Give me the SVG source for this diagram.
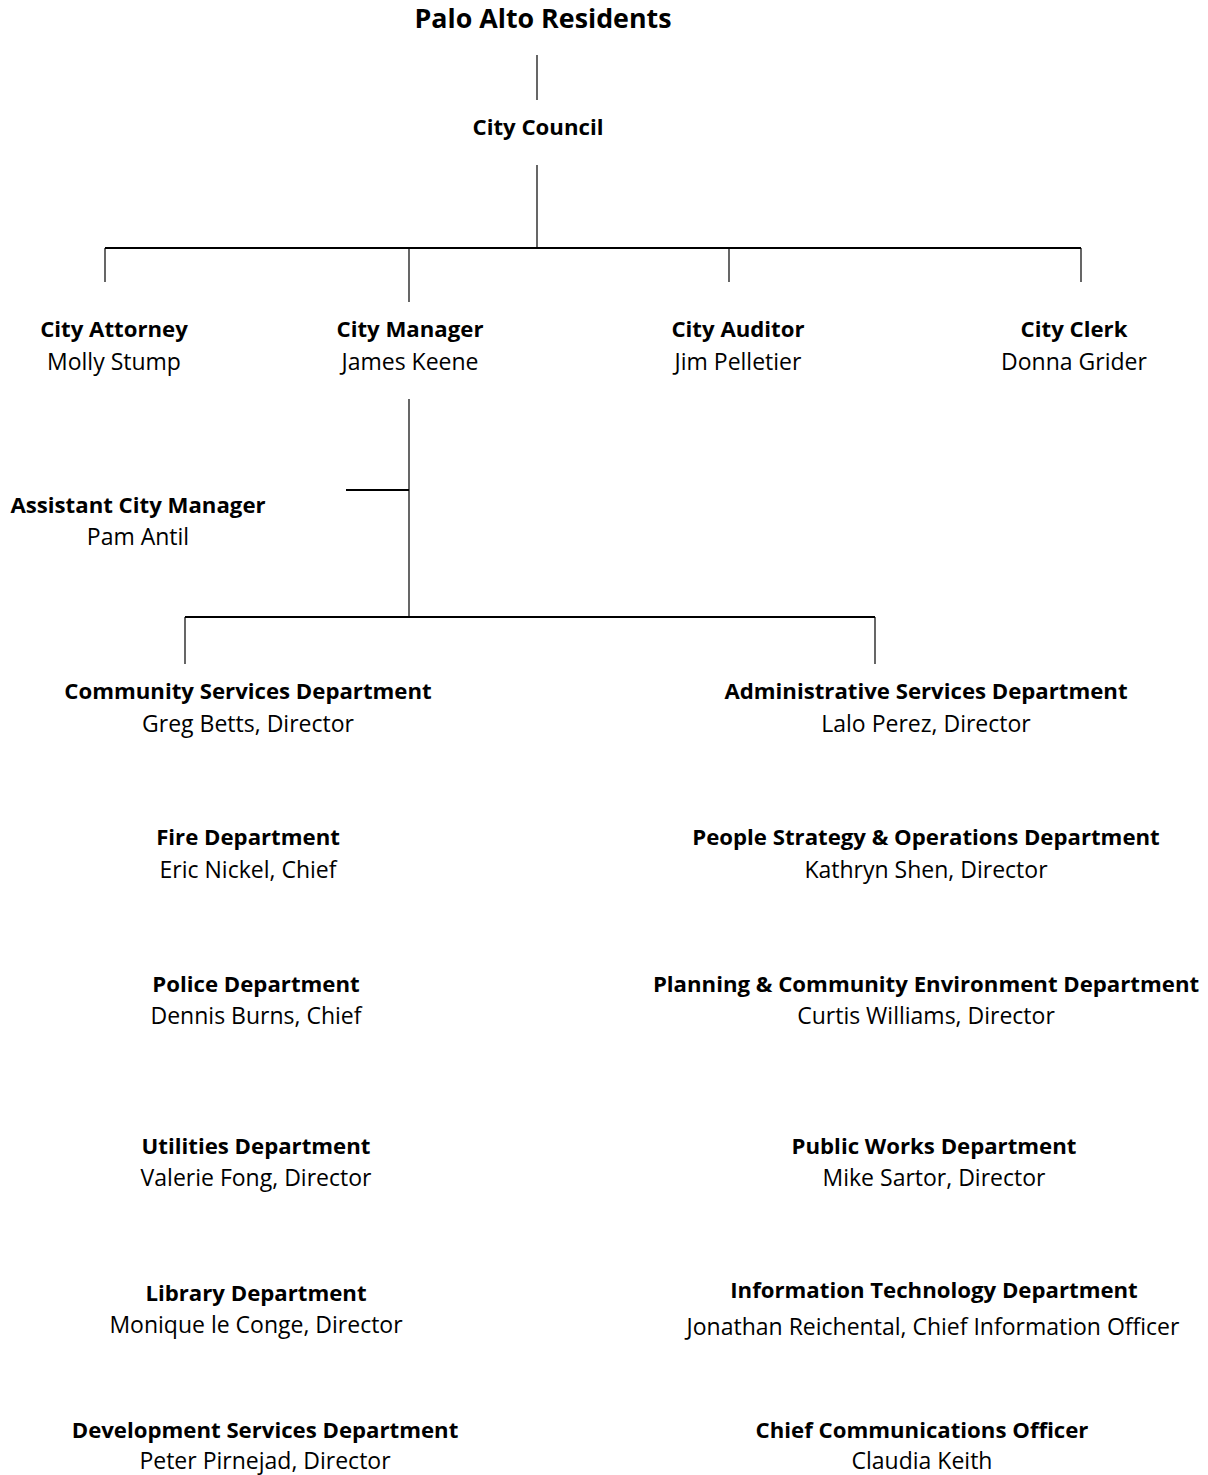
<svg xmlns="http://www.w3.org/2000/svg" width="1208" height="1475" viewBox="0 0 1208 1475">
<style>
text{font-family:"Open Sans","Noto Sans",sans-serif;font-size:23px;fill:#000;text-anchor:middle}
.b{font-weight:bold;font-size:22.2px}
.t{font-size:26.8px;font-weight:bold}
.v{stroke:#000;stroke-width:1.2;fill:none}
.h{stroke:#000;stroke-width:2;fill:none}
</style>
<rect width="1208" height="1475" fill="#fff"/>
<g id="connectors">
<line class="v" x1="537" y1="55" x2="537" y2="100"/>
<line class="v" x1="537" y1="165" x2="537" y2="248"/>
<line class="h" x1="105" y1="248" x2="1081" y2="248"/>
<line class="v" x1="105" y1="248" x2="105" y2="282"/>
<line class="v" x1="409" y1="248" x2="409" y2="302"/>
<line class="v" x1="729" y1="248" x2="729" y2="282"/>
<line class="v" x1="1081" y1="248" x2="1081" y2="282"/>
<line class="v" x1="409" y1="399" x2="409" y2="617"/>
<line class="h" x1="346" y1="490" x2="409" y2="490"/>
<line class="h" x1="185" y1="617" x2="875" y2="617"/>
<line class="v" x1="185" y1="617" x2="185" y2="664"/>
<line class="v" x1="875" y1="617" x2="875" y2="664"/>
</g>
<g id="residents"><text class="t" x="543" y="28">Palo Alto Residents</text></g>
<g id="council"><text class="b" x="538" y="135">City Council</text></g>
<g id="attorney"><text class="b" x="114" y="337">City Attorney</text><text x="114" y="370">Molly Stump</text></g>
<g id="manager"><text class="b" x="410" y="337">City Manager</text><text x="410" y="370">James Keene</text></g>
<g id="auditor"><text class="b" x="738" y="337">City Auditor</text><text x="738" y="370">Jim Pelletier</text></g>
<g id="clerk"><text class="b" x="1074" y="337">City Clerk</text><text x="1074" y="370">Donna Grider</text></g>
<g id="asst"><text class="b" x="138" y="513">Assistant City Manager</text><text x="138" y="545">Pam Antil</text></g>
<g id="community"><text class="b" x="248" y="699">Community Services Department</text><text x="248" y="732">Greg Betts, Director</text></g>
<g id="admin"><text class="b" x="926" y="699">Administrative Services Department</text><text x="926" y="732">Lalo Perez, Director</text></g>
<g id="fire"><text class="b" x="248" y="845">Fire Department</text><text x="248" y="878">Eric Nickel, Chief</text></g>
<g id="people"><text class="b" x="926" y="845">People Strategy &amp; Operations Department</text><text x="926" y="878">Kathryn Shen, Director</text></g>
<g id="police"><text class="b" x="256" y="992">Police Department</text><text x="256" y="1024">Dennis Burns, Chief</text></g>
<g id="planning"><text class="b" x="926" y="992">Planning &amp; Community Environment Department</text><text x="926" y="1024">Curtis Williams, Director</text></g>
<g id="utilities"><text class="b" x="256" y="1154">Utilities Department</text><text x="256" y="1186">Valerie Fong, Director</text></g>
<g id="publicworks"><text class="b" x="934" y="1154">Public Works Department</text><text x="934" y="1186">Mike Sartor, Director</text></g>
<g id="library"><text class="b" x="256" y="1301">Library Department</text><text x="256" y="1333">Monique le Conge, Director</text></g>
<g id="it"><text class="b" x="934" y="1298">Information Technology Department</text><text x="933" y="1335">Jonathan Reichental, Chief Information Officer</text></g>
<g id="devservices"><text class="b" x="265" y="1438">Development Services Department</text><text x="265" y="1469">Peter Pirnejad, Director</text></g>
<g id="comms"><text class="b" x="922" y="1438">Chief Communications Officer</text><text x="922" y="1469">Claudia Keith</text></g>
</svg>
